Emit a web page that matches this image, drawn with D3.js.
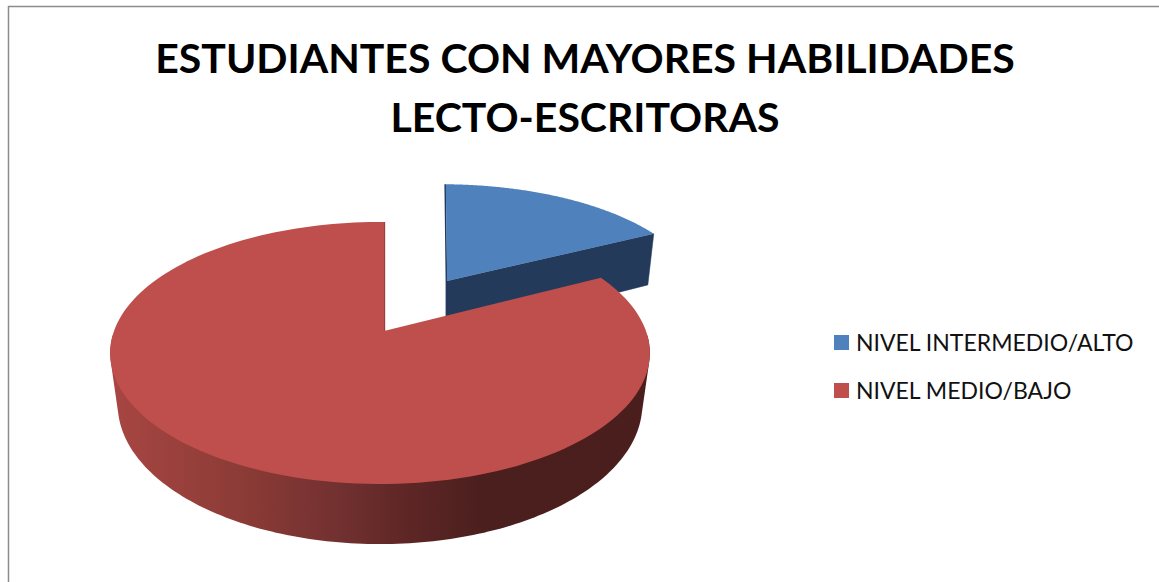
<!DOCTYPE html>
<html><head><meta charset="utf-8">
<script src="https://cdn.jsdelivr.net/npm/d3@7/dist/d3.min.js"></script>
<style>html,body{margin:0;padding:0;background:#fff;overflow:hidden}svg{display:block}</style>
</head><body><div id="chart"></div>
<script>
const titleLines = ["ESTUDIANTES CON MAYORES HABILIDADES", "LECTO-ESCRITORAS"];
const categories = ["NIVEL INTERMEDIO/ALTO", "NIVEL MEDIO/BAJO"];
const values = [17.3, 82.7];
const faceColors = ["#4F81BD", "#BE4F4C"];

const W = 1159, H = 582;
const svg = d3.select("#chart").append("svg").attr("width", W).attr("height", H);
const font = "Lato, 'Open Sans', sans-serif";

// frame
svg.append("path").attr("d", d3.line()([[8.5, H], [8.5, 6.5], [W, 6.5]]))
  .attr("fill", "none").attr("stroke", "#8c8c8c").attr("stroke-width", 1.5);

// title
svg.selectAll("text.title").data(titleLines).join("text").attr("class", "title")
  .attr("x", 585).attr("y", (d, i) => 73 + i * 58.5).attr("text-anchor", "middle")
  .attr("font-family", font).attr("font-weight", 700).attr("font-size", 41).attr("fill", "#000").text(d => d);

// pie angles from the library
const rot = 1 * Math.PI / 180;
const arcs = d3.pie().sort(null).startAngle(rot).endAngle(rot + 2 * Math.PI)(values);

// perspective view of a disc
const persp = 0.168, shrink = 0.972;
function rimPoint(g, a) {
  const u = Math.sin(a), v = -Math.cos(a), s = 1 / (1 - persp * v);
  return [g.cx + g.rx * u * s, g.ay + g.ry * v * s];
}
function drop(g, pt, a) {
  const v = -Math.cos(a), s = 1 / (1 - persp * v);
  return [g.cx + (pt[0] - g.cx) * shrink, pt[1] + g.depth * s];
}
function samples(a0, a1) {
  const n = 160;
  return d3.range(n + 1).map(i => a0 + (a1 - a0) * i / n);
}
const line = d3.line();
const blue = {cx: 442, ax: 447, ay: 281, rx: 255, ry: 113, depth: 55};
const red = {cx: 380, ax: 384, ay: 331, rx: 266, ry: 127.3, depth: 50};
const gBlue = arcs[0], gRed = arcs[1];

const defs = svg.append("defs");
const grad = defs.append("linearGradient").attr("id", "redWall")
  .attr("gradientUnits", "userSpaceOnUse").attr("x1", 110).attr("x2", 650).attr("y1", 0).attr("y2", 0);
[[0, "#A84643"], [0.25, "#8B3B36"], [0.43, "#713030"], [0.54, "#5F2726"], [0.69, "#4B1F1E"], [1, "#4A1E1D"]]
  .forEach(([o, c]) => grad.append("stop").attr("offset", o).attr("stop-color", c));

// blue slice
const bApex = [blue.ax, blue.ay];
const bEnd = rimPoint(blue, gBlue.endAngle), bStart = rimPoint(blue, gBlue.startAngle);
svg.append("path").attr("d", line([bApex, bEnd, drop(blue, bEnd, gBlue.endAngle), [blue.ax, blue.ay + blue.depth]]) + "Z")
  .attr("fill", "#243A5B").attr("stroke", "#243A5B").attr("stroke-width", 0.5);
svg.append("path").attr("d", line([bStart, [blue.ax, blue.ay], [blue.ax, blue.ay + 36]]))
  .attr("fill", "none").attr("stroke", "#243A5B").attr("stroke-width", 1.6).attr("transform", "translate(-0.6,0)");
svg.append("path").attr("d", line([bApex].concat(samples(gBlue.startAngle, gBlue.endAngle).map(a => rimPoint(blue, a)))) + "Z")
  .attr("fill", faceColors[0]);

// red slice: the wall is the hull of the near half of both rims
const front = samples(92 * Math.PI / 180, 268 * Math.PI / 180);
const topRim = front.map(a => rimPoint(red, a));
const lowRim = front.map((a, i) => drop(red, topRim[i], a));
svg.append("path").attr("d", line(d3.polygonHull(topRim.concat(lowRim))) + "Z").attr("fill", "url(#redWall)");
const rApex = [red.ax, red.ay], rEnd = rimPoint(red, gRed.endAngle);
svg.append("path").attr("d", line([rEnd, rApex]))
  .attr("fill", "none").attr("stroke", "#9A403D").attr("stroke-width", 1.6).attr("transform", "translate(0.4,0)");
svg.append("path").attr("d", line([rApex].concat(samples(gRed.startAngle, gRed.endAngle).map(a => rimPoint(red, a)))) + "Z")
  .attr("fill", faceColors[1]);

// legend
const color = d3.scaleOrdinal(categories, faceColors);
const legendY = d3.scalePoint(categories, [342.5, 390.5]);
const item = svg.selectAll("g.item").data(categories).join("g").attr("class", "item")
  .attr("transform", d => `translate(0,${legendY(d)})`);
item.append("rect").attr("x", 834).attr("y", -7.5).attr("width", 15).attr("height", 15).attr("fill", d => color(d));
item.append("text").attr("x", 856).attr("y", 8).attr("font-family", font).attr("font-size", 23)
  .attr("fill", "#111").text(d => d);
</script></body></html>
